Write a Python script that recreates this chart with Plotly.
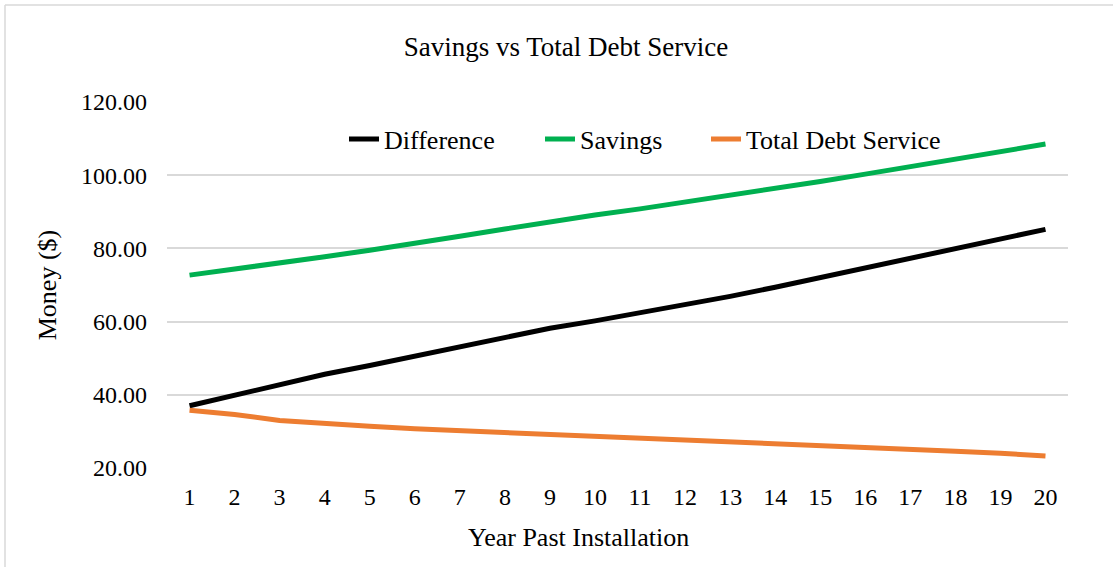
import plotly.graph_objects as go

years = list(range(1, 21))
difference = [37.0, 39.8, 42.8, 45.6, 48.0, 50.6, 53.2, 55.8, 58.2, 60.2,
              62.4, 64.6, 66.9, 69.4, 72.0, 74.6, 77.2, 79.8, 82.4, 85.2]
savings = [72.7, 74.3, 75.9, 77.7, 79.5, 81.3, 83.3, 85.3, 87.3, 89.1,
           90.8, 92.6, 94.4, 96.3, 98.3, 100.3, 102.4, 104.4, 106.4, 108.5]
total_debt = [35.8, 34.6, 33.0, 32.1, 31.4, 30.7, 30.2, 29.6, 29.2, 28.8,
              28.4, 27.9, 27.4, 26.9, 26.4, 25.9, 25.3, 24.6, 24.0, 23.3]
y_ticks = [20, 40, 60, 80, 100, 120]

FONT = "Liberation Serif, Times New Roman, serif"
L, R, T, B = 167, 45, 102, 99
PW, PH = 1113 - L - R, 567 - T - B


def px_x(px):
    return (px - L) / PW


def px_y(py):
    return (567 - B - py) / PH


fig = go.Figure()
fig.add_trace(go.Scatter(x=years, y=difference, name="Difference", mode="lines",
                         line=dict(color="#000000", width=5), legend="legend"))
fig.add_trace(go.Scatter(x=years, y=savings, name="Savings", mode="lines",
                         line=dict(color="#00B050", width=5), legend="legend2"))
fig.add_trace(go.Scatter(x=years, y=total_debt, name="Total Debt Service", mode="lines",
                         line=dict(color="#ED7D31", width=5), legend="legend3"))

leg_common = dict(orientation="h", yanchor="middle", y=px_y(139), xanchor="left",
                  font=dict(size=26, family=FONT), bgcolor="rgba(0,0,0,0)")

fig.update_layout(
    width=1113, height=567,
    margin=dict(l=L, r=R, t=T, b=B),
    paper_bgcolor="white", plot_bgcolor="white",
    font=dict(family=FONT, color="#000000", size=24),
    title=dict(text="Savings vs Total Debt Service", x=566 / 1113, xanchor="center",
               y=1 - 47 / 567, yanchor="middle", yref="container",
               font=dict(size=27, family=FONT)),
    legend=dict(x=px_x(344), **leg_common),
    legend2=dict(x=px_x(540), **leg_common),
    legend3=dict(x=px_x(706), **leg_common),
    showlegend=True,
    annotations=[
        dict(text="Year Past Installation", xref="paper", yref="paper",
             x=px_x(578), y=px_y(537), xanchor="center", yanchor="middle",
             showarrow=False, font=dict(size=26, family=FONT)),
    ],
    shapes=[
        dict(type="line", xref="paper", yref="paper",
             x0=px_x(5), x1=px_x(5), y0=px_y(567), y1=px_y(5),
             line=dict(color="#D9D9D9", width=1.5)),
        dict(type="line", xref="paper", yref="paper",
             x0=px_x(5), x1=px_x(1113), y0=px_y(5), y1=px_y(5),
             line=dict(color="#D9D9D9", width=1.5)),
    ],
)

fig.update_xaxes(
    range=[0.5, 20.5], tickmode="array", tickvals=years, ticktext=[str(v) for v in years],
    showgrid=False, zeroline=False, showline=False, ticks="",
    ticklabelstandoff=12, tickfont=dict(size=24, family=FONT),
)
fig.update_yaxes(
    range=[20, 120], tickmode="array", tickvals=y_ticks, tickformat=".2f",
    showgrid=True, gridcolor="#D9D9D9", gridwidth=1.5, zeroline=False, showline=False,
    ticks="", ticklabelstandoff=19, tickfont=dict(size=24, family=FONT),
    title=dict(text="Money ($)", font=dict(size=26, family=FONT), standoff=16),
)

fig.write_html("out.html")
